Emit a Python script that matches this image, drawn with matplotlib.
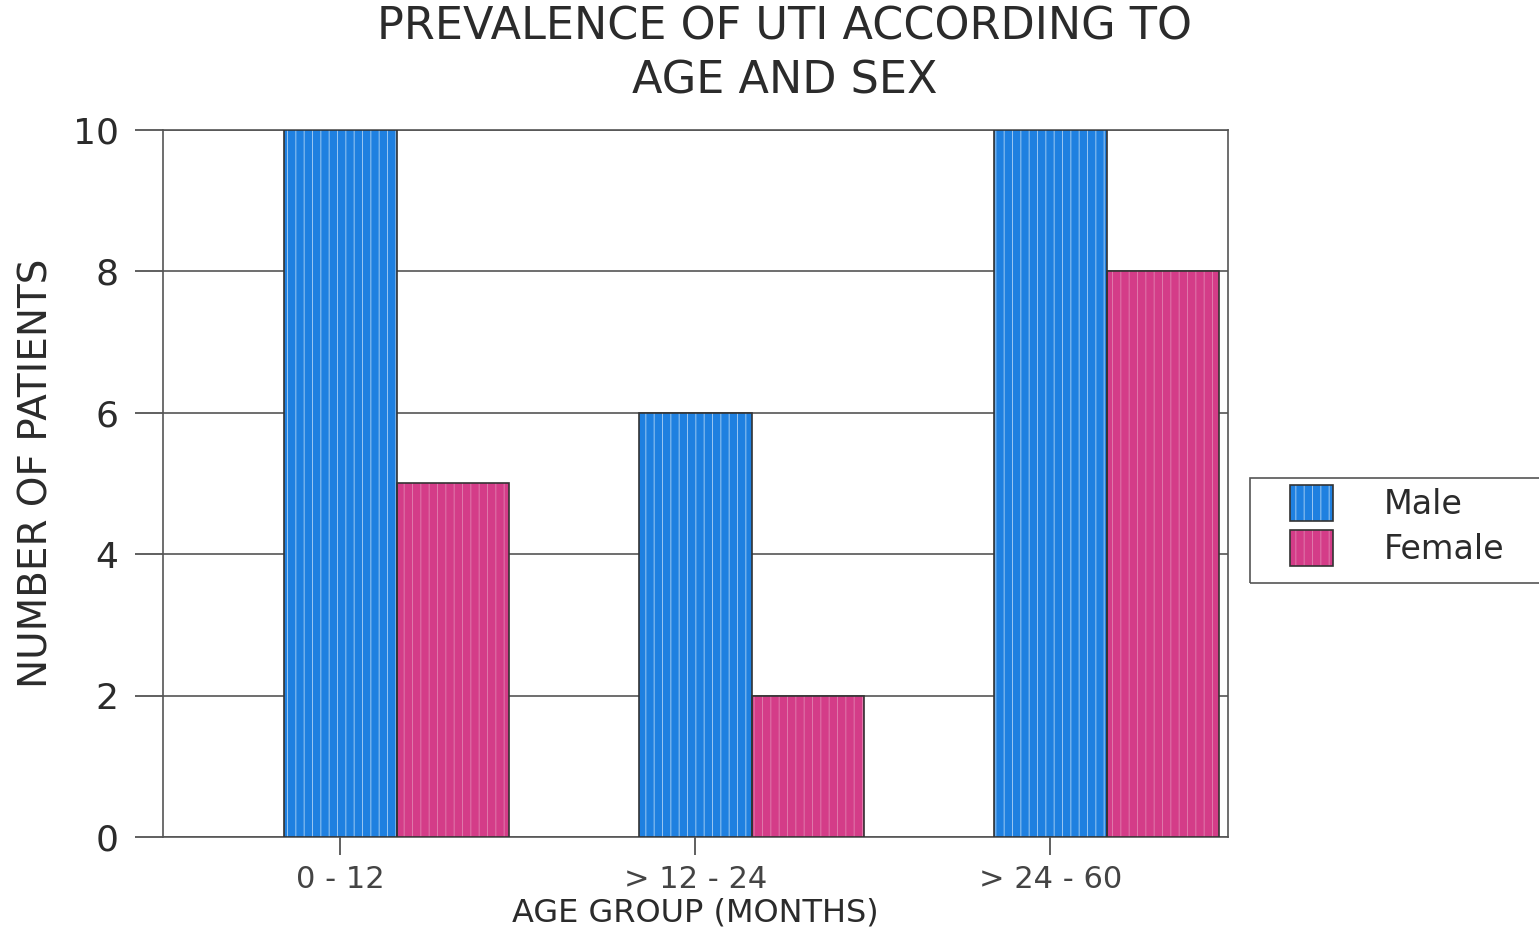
import numpy as np
import matplotlib.pyplot as plt
from matplotlib.patches import Patch, Rectangle

# UTI cases by age group and sex
age_groups = ["0 - 12", "> 12 - 24", "> 24 - 60"]
male = [10, 6, 10]
female = [5, 2, 8]

blue = "#1f80e0"
pink = "#d43c88"
ink = "#2b2b2b"
stripe = {blue: "#9cc8f2", pink: "#e07aac"}

plt.rcParams["font.family"] = "DejaVu Sans"
plt.rcParams["hatch.linewidth"] = 0.7

fig = plt.figure(figsize=(15.39, 9.33), dpi=100)
ax = fig.add_axes([0.1059, 0.1029, 0.692, 0.7578])

x = np.arange(len(age_groups))
w = 0.316

for vals, off, col in [(male, 0.0, blue), (female, w, pink)]:
    # fill with faint white vertical stripes, then a dark outline
    ax.bar(x + off, vals, w, color=col, edgecolor=stripe[col],
           hatch="||", linewidth=0, zorder=3)
    ax.bar(x + off, vals, w, fill=False, edgecolor="#333333", linewidth=1.2, zorder=4)

ax.set_xlim(-0.5, 2.5)
ax.set_ylim(0, 10)
ax.set_yticks([0, 2, 4, 6, 8, 10])
ax.set_xticks(x)
ax.set_xticklabels(age_groups, fontsize=22, color=ink)
ax.tick_params(axis="y", length=20, width=1.2, colors="#444444", labelsize=26, labelcolor=ink, pad=12)
ax.tick_params(axis="x", length=13, width=1.2, colors="#444444", pad=7)
ax.grid(axis="y", color="#555555", linewidth=1.2, zorder=1)
for s in ax.spines.values():
    s.set_color("#555555")
    s.set_linewidth(1.2)

ax.set_ylabel("NUMBER OF PATIENTS", fontsize=28, color=ink)
ax.yaxis.set_label_coords(-0.101, 0.515)
ax.set_xlabel("AGE GROUP (MONTHS)", fontsize=23, color=ink, labelpad=3)

fig.text(0.51, 1 - 6 / 933, "PREVALENCE OF UTI ACCORDING TO\nAGE AND SEX", ha="center", va="top",
         fontsize=32, color=ink, linespacing=1.3)

# legend frame runs off the right edge
fig.patches.append(Rectangle((1250 / 1539, 1 - 583 / 933), 0.25, 105 / 933,
                             transform=fig.transFigure, fill=False,
                             edgecolor="#555555", linewidth=1.2))
handles = [(Patch(facecolor=blue, edgecolor=stripe[blue], hatch="||", linewidth=0),
            Patch(fill=False, edgecolor="#333333", linewidth=1.2)),
           (Patch(facecolor=pink, edgecolor=stripe[pink], hatch="||", linewidth=0),
            Patch(fill=False, edgecolor="#333333", linewidth=1.2))]
leg = fig.legend(handles, ["Male", "Female"], loc="upper left", bbox_to_anchor=(1290 / 1539, 1 - 485 / 933),
                 fontsize=24, frameon=False, handlelength=1.3, handleheight=1.3,
                 handletextpad=1.5, borderpad=0, borderaxespad=0, labelspacing=0.25)
for t in leg.get_texts():
    t.set_color(ink)

fig.savefig("out.png", dpi=100)
